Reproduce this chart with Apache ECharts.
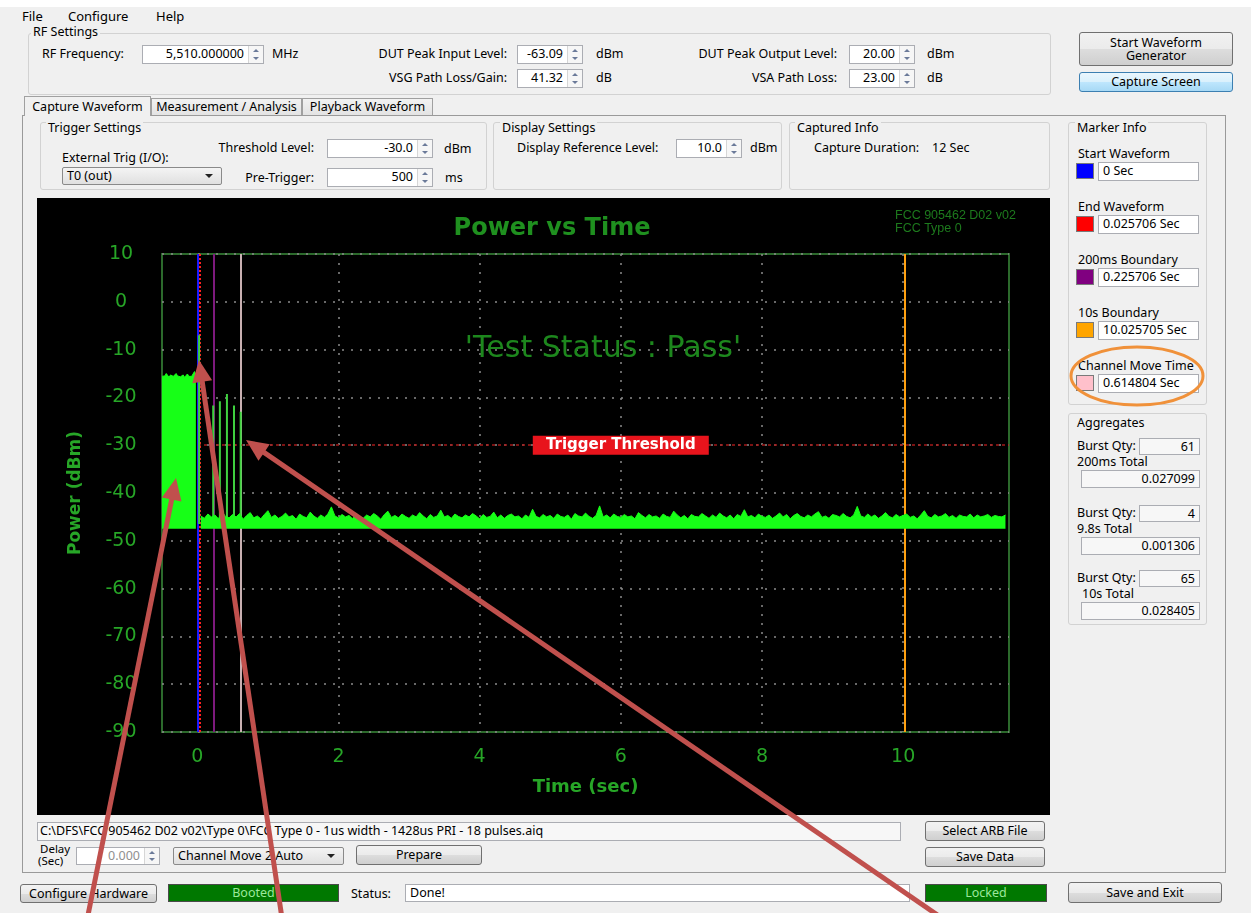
<!DOCTYPE html>
<html>
<head>
<meta charset="utf-8">
<title>Power vs Time</title>
<script src="https://cdn.jsdelivr.net/npm/echarts@6/dist/echarts.min.js"></script>
<style>
html,body{margin:0;padding:0;background:#f0f0f0;}
#app{position:relative;width:1251px;height:913px;overflow:hidden;background:#f0f0f0;font-family:"Noto Sans","Liberation Sans",sans-serif;font-size:12.5px;color:#000;}
.t{position:absolute;white-space:nowrap;line-height:16px;height:16px;}
.g{position:absolute;border:1px solid #d2d2d2;border-radius:3px;box-sizing:border-box;}
.gl{position:absolute;white-space:nowrap;line-height:14px;background:#f0f0f0;padding:0 2px;}
.in{position:absolute;background:#fff;border:1px solid #abadb3;box-sizing:border-box;line-height:16px;white-space:nowrap;overflow:hidden;padding-left:4px;}
.in.num{text-align:right;padding-right:19px;}
.in.rt{text-align:right;padding-right:4px;}
.sp{position:absolute;right:0;top:0;bottom:0;width:14px;border-left:1px solid #d6d6d6;background:#f6f6f6;}
.sp:before,.sp:after{content:"";position:absolute;left:4px;border-left:3px solid transparent;border-right:3px solid transparent;}
.sp:before{top:3px;border-bottom:3px solid #6b7a99;}
.sp:after{bottom:3px;border-top:3px solid #6b7a99;}
.btn{position:absolute;box-sizing:border-box;border:1px solid #707070;border-radius:3px;background:linear-gradient(#f2f2f2,#ebebeb 50%,#dddddd 51%,#cfcfcf);text-align:center;white-space:nowrap;}
.dd{position:absolute;box-sizing:border-box;border:1px solid #8a8a8a;border-radius:2px;background:linear-gradient(#f4f4f4,#e0e0e0);white-space:nowrap;padding-left:4px;line-height:16px;}
.dd:after{content:"";position:absolute;right:8px;top:50%;margin-top:-2px;border-left:4px solid transparent;border-right:4px solid transparent;border-top:4px solid #222;}
.sw{position:absolute;width:18px;height:16px;box-sizing:border-box;border:1px solid #7a7a7a;}
.ok{position:absolute;background:#007800;border:1px solid #4a4a4a;color:#9be89b;text-align:center;box-sizing:border-box;line-height:16px;}
.tab{position:absolute;box-sizing:border-box;border:1px solid #a0a0a0;border-bottom:none;text-align:center;white-space:nowrap;}
#chart{position:absolute;left:37px;top:198px;width:1013px;height:617px;background:#000;}
#ann{position:absolute;left:0;top:0;width:1251px;height:913px;pointer-events:none;}
</style>
</head>
<body>
<div id="app">
  <div style="position:absolute;left:0;top:0;width:1251px;height:7px;background:#fff"></div>

  <!-- menu -->
  <div class="t" style="left:22px;top:8px;font-size:13px">File</div>
  <div class="t" style="left:68px;top:8px;font-size:13px">Configure</div>
  <div class="t" style="left:156px;top:8px;font-size:13px">Help</div>

  <!-- RF settings -->
  <div class="g" style="left:28px;top:33px;width:1023px;height:62px"></div>
  <div class="gl" style="left:31px;top:25px">RF Settings</div>
  <div class="t" style="left:42px;top:46px">RF Frequency:</div>
  <div class="in num" style="left:142px;top:45px;width:122px;height:19px">5,510.000000<div class="sp"></div></div>
  <div class="t" style="left:272px;top:46px">MHz</div>

  <div class="t" style="left:300px;top:46px;width:207px;text-align:right">DUT Peak Input Level:</div>
  <div class="in num" style="left:517px;top:45px;width:66px;height:19px">-63.09<div class="sp"></div></div>
  <div class="t" style="left:596px;top:46px">dBm</div>
  <div class="t" style="left:300px;top:70px;width:207px;text-align:right">VSG Path Loss/Gain:</div>
  <div class="in num" style="left:517px;top:69px;width:66px;height:19px">41.32<div class="sp"></div></div>
  <div class="t" style="left:596px;top:70px">dB</div>

  <div class="t" style="left:620px;top:46px;width:217px;text-align:right">DUT Peak Output Level:</div>
  <div class="in num" style="left:849px;top:45px;width:66px;height:19px">20.00<div class="sp"></div></div>
  <div class="t" style="left:927px;top:46px">dBm</div>
  <div class="t" style="left:620px;top:70px;width:217px;text-align:right">VSA Path Loss:</div>
  <div class="in num" style="left:849px;top:69px;width:66px;height:19px">23.00<div class="sp"></div></div>
  <div class="t" style="left:927px;top:70px">dB</div>

  <div class="btn" style="left:1079px;top:32px;width:154px;height:34px;line-height:13px;padding-top:3px">Start Waveform<br>Generator</div>
  <div class="btn" style="left:1079px;top:72px;width:154px;height:20px;line-height:18px;border-color:#3c7fb1;background:linear-gradient(#eaf6fd,#d9f0fc 50%,#bee6fd 51%,#a7d9f5)">Capture Screen</div>

  <!-- tabs -->
  <div style="position:absolute;left:22px;top:115px;width:1204px;height:758px;border:1px solid #9a9a9a;box-sizing:border-box;background:#f0f0f0"></div>
  <div class="tab" style="left:24px;top:96px;width:127px;height:20px;line-height:19px;background:#f0f0f0">Capture Waveform</div>
  <div class="tab" style="left:151px;top:98px;width:151px;height:17px;line-height:16px;background:linear-gradient(#f2f2f2,#e3e3e3)">Measurement / Analysis</div>
  <div class="tab" style="left:302px;top:98px;width:131px;height:17px;line-height:16px;background:linear-gradient(#f2f2f2,#e3e3e3)">Playback Waveform</div>

  <!-- trigger settings -->
  <div class="g" style="left:40px;top:122px;width:447px;height:68px"></div>
  <div class="gl" style="left:46px;top:121px">Trigger Settings</div>
  <div class="t" style="left:62px;top:150px">External Trig (I/O):</div>
  <div class="dd" style="left:62px;top:167px;width:160px;height:18px">T0 (out)</div>
  <div class="t" style="left:180px;top:140px;width:134px;text-align:right">Threshold Level:</div>
  <div class="in num" style="left:327px;top:139px;width:106px;height:19px">-30.0<div class="sp"></div></div>
  <div class="t" style="left:444px;top:141px">dBm</div>
  <div class="t" style="left:180px;top:170px;width:134px;text-align:right">Pre-Trigger:</div>
  <div class="in num" style="left:327px;top:168px;width:106px;height:19px">500<div class="sp"></div></div>
  <div class="t" style="left:445px;top:170px">ms</div>

  <!-- display settings -->
  <div class="g" style="left:493px;top:122px;width:289px;height:68px"></div>
  <div class="gl" style="left:500px;top:121px">Display Settings</div>
  <div class="t" style="left:517px;top:140px">Display Reference Level:</div>
  <div class="in num" style="left:676px;top:139px;width:66px;height:19px">10.0<div class="sp"></div></div>
  <div class="t" style="left:750px;top:140px">dBm</div>

  <!-- captured info -->
  <div class="g" style="left:789px;top:122px;width:261px;height:68px"></div>
  <div class="gl" style="left:795px;top:121px">Captured Info</div>
  <div class="t" style="left:814px;top:140px">Capture Duration:</div>
  <div class="t" style="left:932px;top:140px">12 Sec</div>

  <!-- plot -->
  <div id="chart"></div>

  <!-- marker info / aggregates (filled from the arrays below) -->
  <div class="g" style="left:1068px;top:122px;width:139px;height:283px;overflow:hidden" id="markerBox"></div>
  <div class="gl" style="left:1075px;top:121px">Marker Info</div>
  <div class="g" style="left:1068px;top:413px;width:139px;height:212px;overflow:hidden" id="aggBox"></div>
  <div class="gl" style="left:1075px;top:416px">Aggregates</div>

  <!-- bottom controls -->
  <div class="in" style="left:37px;top:822px;width:864px;height:19px;background:#f7f7f7;padding-left:2px">C:\DFS\FCC 905462 D02 v02\Type 0\FCC Type 0 - 1us width - 1428us PRI - 18 pulses.aiq</div>
  <div class="btn" style="left:925px;top:821px;width:120px;height:20px;line-height:18px">Select ARB File</div>
  <div class="btn" style="left:925px;top:847px;width:120px;height:20px;line-height:18px">Save Data</div>
  <div class="t" style="left:40px;top:843px;font-size:11.5px;line-height:12px">Delay</div>
  <div class="t" style="left:38px;top:855px;font-size:11.5px;line-height:12px">(Sec)</div>
  <div class="in num" style="left:76px;top:847px;width:84px;height:18px;color:#909090">0.000<div class="sp"></div></div>
  <div class="dd" style="left:173px;top:847px;width:171px;height:18px">Channel Move 2 Auto</div>
  <div class="btn" style="left:356px;top:845px;width:126px;height:20px;line-height:18px">Prepare</div>

  <div class="btn" style="left:20px;top:884px;width:137px;height:19px;line-height:17px">Configure Hardware</div>
  <div class="ok" style="left:168px;top:884px;width:171px;height:18px">Booted</div>
  <div class="t" style="left:351px;top:886px">Status:</div>
  <div class="in" style="left:405px;top:884px;width:505px;height:18px">Done!</div>
  <div class="ok" style="left:925px;top:884px;width:122px;height:18px">Locked</div>
  <div class="btn" style="left:1068px;top:882px;width:154px;height:21px;line-height:19px">Save and Exit</div>

  <svg id="ann" width="1251" height="913" viewBox="0 0 1251 913"></svg>
</div>

<script>
// ---- axis ticks ----
const timeTicks = [0, 2, 4, 6, 8, 10];
const timeMin = -0.5, timeMax = 11.5;
const powerMin = -90, powerMax = 10, powerStep = 10;

// ---- captured waveform (dBm) ----
// transmitted burst block before the trigger point
const burstTimes = [-0.5, -0.48, -0.46, -0.44, -0.42, -0.4, -0.38, -0.36, -0.34, -0.32, -0.3, -0.28, -0.26,
  -0.24, -0.22, -0.2, -0.18, -0.16, -0.14, -0.12, -0.1, -0.08, -0.06, -0.04, -0.02];
const burstTop = [-15.6, -15.2, -15.5, -15.0, -15.4, -15.8, -15.3, -15.1, -15.6, -15.4, -15.0, -15.5, -15.2,
  -15.7, -15.4, -15.3, -15.8, -15.4, -15.1, -15.6, -15.3, -15.6, -15.2, -14.6, -15.3];
// noise floor, one reading every 0.05 s starting at 0.05 s
const noiseStart = 0.05, noiseStep = 0.05;
const noiseTop = [
  -44.8, -45.3, -44.4, -45.0, -44.6, -45.4, -43.9, -44.9, -45.2, -44.5,
  -45.0, -44.3, -45.5, -44.7, -44.1, -45.2, -44.8, -45.4, -44.5, -43.7,
  -45.1, -44.6, -45.3, -44.9, -44.2, -45.0, -44.7, -45.5, -44.4, -44.9,
  -45.2, -44.0, -44.8, -45.3, -44.6, -45.1, -44.4, -42.9, -44.8, -45.2,
  -44.5, -45.0, -44.7, -45.4, -44.2, -44.9, -45.3, -44.6, -45.0, -44.3,
  -44.8, -45.5, -44.5, -43.8, -45.1, -44.7, -45.2, -44.4, -44.9, -45.3,
  -44.6, -45.0, -44.1, -44.8, -45.4, -44.5, -45.1, -44.8, -43.6, -45.0,
  -44.7, -45.3, -44.4, -44.9, -45.2, -44.6, -45.0, -44.3, -44.8, -45.4,
  -44.5, -45.1, -44.9, -44.0, -45.2, -44.6, -45.3, -44.7, -44.4, -45.0,
  -44.8, -45.4, -44.6, -45.1, -43.4, -44.9, -45.2, -44.5, -45.0, -44.7,
  -45.3, -44.4, -44.9, -45.1, -44.6, -45.5, -44.3, -44.8, -45.0, -44.2,
  -44.9, -45.3, -44.7, -42.7, -45.0, -44.6, -45.2, -44.4, -44.9, -45.1,
  -44.5, -45.0, -44.8, -45.4, -44.1, -44.7, -45.2, -44.5, -45.0, -44.8,
  -45.3, -44.4, -44.9, -45.1, -43.8, -44.6, -45.2, -44.7, -45.4, -44.5,
  -44.9, -45.0, -44.3, -44.8, -45.3, -44.6, -45.1, -44.2, -44.8, -45.2,
  -44.6, -45.4, -44.5, -44.9, -43.5, -45.0, -44.7, -45.2, -44.4, -44.9,
  -45.1, -44.6, -45.3, -44.8, -44.2, -45.0, -44.5, -45.4, -44.7, -44.3,
  -44.9, -45.2, -44.6, -45.0, -44.4, -43.9, -45.1, -44.8, -45.3, -44.5,
  -44.7, -45.0, -44.3, -44.9, -45.2, -44.6, -42.8, -44.8, -45.1, -44.4,
  -45.0, -44.6, -45.3, -44.8, -44.1, -44.9, -45.2, -44.5, -45.0, -44.7,
  -44.4, -45.1, -44.8, -45.4, -44.6, -43.7, -44.9, -45.2, -44.5, -45.0,
  -44.8, -44.3, -45.1, -44.7, -45.3, -44.6, -44.9, -45.0, -44.4, -45.2,
  -44.6, -45.0, -44.8, -44.5, -45.1, -44.7, -44.9, -45.0, -44.6];
const floorLevel = -47.5;
// individual pulses after the trigger
const pulseTimes = [0.025706, 0.2257, 0.32, 0.42, 0.52, 0.6148];
const pulsePeaks = [-7.0, -21.7, -20.8, -19.3, -21.7, -23.0];
const pulseBase = -46.5;

// ---- trigger threshold ----
const thresholdLevel = -30;
const thresholdLabel = 'Trigger Threshold';
const thresholdLabelTime = 6.0;

// ---- markers ----
const markerNames = ['Start Waveform', 'End Waveform', '200ms Boundary', '10s Boundary', 'Channel Move Time'];
const markerTimes = [0, 0.025706, 0.225706, 10.025705, 0.614804];
const markerColors = ['#0000ff', '#ff0000', '#800080', '#ffa500', '#ffc0cb'];
const markerLineColors = ['#1a1aff', '#ff2020', '#7d1a7d', '#ffa010', '#c9b0b2'];
const markerLineTypes = ['solid', 'dotted', 'solid', 'solid', 'solid'];

// ---- aggregates ----
const aggQty = [61, 4, 65];
const aggLabels = ['200ms Total', '9.8s Total', '10s Total'];
const aggTotals = ['0.027099', '0.001306', '0.028405'];

// ---- side panels ----
(function buildPanels() {
  const box = document.getElementById('markerBox');
  const rows = [153, 206, 259, 312, 365];
  markerNames.forEach((name, i) => {
    const cy = rows[i] - 122;
    box.insertAdjacentHTML('beforeend',
      `<div class="t" style="left:9px;top:${cy - 8}px">${name}</div>` +
      `<div class="sw" style="left:7px;top:${cy + 9}px;background:${markerColors[i]}"></div>` +
      `<div class="in" style="left:29px;top:${cy + 8}px;width:101px;height:19px">${markerTimes[i]} Sec</div>`);
  });
  const agg = document.getElementById('aggBox');
  const base = [445, 512, 577];
  aggQty.forEach((q, i) => {
    const cy = base[i] - 413;
    agg.insertAdjacentHTML('beforeend',
      `<div class="t" style="left:8px;top:${cy - 8}px">Burst Qty:</div>` +
      `<div class="in rt" style="left:70px;top:${cy - 8}px;width:61px;height:17px;line-height:15px;background:#f7f7f7">${q}</div>` +
      `<div class="t" style="left:${i === 2 ? 13 : 8}px;top:${cy + 8}px">${aggLabels[i]}</div>` +
      `<div class="in rt" style="left:12px;top:${cy + 24}px;width:119px;height:18px;background:#f7f7f7">${aggTotals[i]}</div>`);
  });
})();

// ---- chart ----
const green = '#27a627';
const titleGreen = '#1f901f';
const signalGreen = '#17ff17';
const font = 'DejaVu Sans';

const pulseData = [];
pulseTimes.forEach((t, i) => {
  pulseData.push([t, pulseBase], [t, pulsePeaks[i]], [t, pulseBase], [t, '-']);
});
const burstData = burstTimes.map((t, i) => [t, burstTop[i]]);
const noiseData = noiseTop.map((v, i) => [+(noiseStart + i * noiseStep).toFixed(3), v]);

const chart = echarts.init(document.getElementById('chart'), null, { renderer: 'canvas' });
chart.setOption({
  backgroundColor: '#000',
  animation: false,
  grid: { left: 125, top: 56, right: 41, bottom: 83, show: true, borderColor: '#2c6a2c', borderWidth: 2, backgroundColor: 'rgba(0,0,0,0)' },
  xAxis: {
    type: 'value', min: timeMin, max: timeMax,
    name: 'Time (sec)', nameLocation: 'middle', nameGap: 46,
    nameTextStyle: { color: green, fontFamily: font, fontWeight: 'bold', fontSize: 18 },
    axisLine: { show: false },
    axisTick: { show: false, customValues: timeTicks },
    axisLabel: { customValues: timeTicks, color: green, fontFamily: font, fontSize: 19, margin: 16 },
    splitLine: { show: true, lineStyle: { color: '#8a8a8a', type: [2, 7], width: 1.5 } }
  },
  yAxis: {
    type: 'value', min: powerMin, max: powerMax, interval: powerStep,
    name: 'Power (dBm)', nameLocation: 'middle', nameGap: 78, nameRotate: 90,
    nameTextStyle: { color: green, fontFamily: font, fontWeight: 'bold', fontSize: 17 },
    axisLine: { show: false },
    axisTick: { show: false },
    axisLabel: { color: green, fontFamily: font, fontSize: 19, margin: 41, align: 'center' },
    splitLine: { show: true, lineStyle: { color: '#8a8a8a', type: [2, 7], width: 1.5 } }
  },
  graphic: [
    { type: 'text', x: 515, y: 31, z: 10, style: { text: 'Power vs Time', fill: titleGreen, fontFamily: font, fontWeight: 'bold', fontSize: 24, align: 'center', verticalAlign: 'middle' } },
    { type: 'text', x: 566, y: 151, z: 10, style: { text: "'Test Status : Pass'", fill: '#1d871d', fontFamily: font, fontSize: 30, align: 'center', verticalAlign: 'middle' } },
    { type: 'text', x: 858, y: 18, z: 10, style: { text: 'FCC 905462 D02 v02', fill: '#1d7a1d', fontFamily: 'Liberation Sans', fontSize: 12.5, verticalAlign: 'middle' } },
    { type: 'text', x: 858, y: 31, z: 10, style: { text: 'FCC Type 0', fill: '#1d7a1d', fontFamily: 'Liberation Sans', fontSize: 12.5, verticalAlign: 'middle' } }
  ],
  series: [
    {
      name: 'Markers', type: 'line', data: [], z: 1, silent: true,
      markLine: {
        silent: true, symbol: ['none', 'none'], label: { show: false }, animation: false, z: 1,
        data: markerTimes.map((t, i) => ({
          xAxis: t,
          lineStyle: { color: markerLineColors[i], width: 2, type: markerLineTypes[i] }
        }))
      }
    },
    {
      name: 'Threshold', type: 'line', data: [], z: 2, silent: true,
      markLine: {
        silent: true, symbol: ['none', 'none'], label: { show: false }, animation: false, z: 2,
        lineStyle: { color: '#a51818', type: [3, 3], width: 1.5 },
        data: [{ yAxis: thresholdLevel }]
      },
      markPoint: {
        silent: true, animation: false, z: 20,
        symbol: 'rect', symbolSize: [176, 19],
        itemStyle: { color: '#e8141c' },
        label: { show: true, position: 'inside', formatter: thresholdLabel, color: '#ffffff', fontFamily: font, fontSize: 15, fontWeight: 'bold' },
        data: [{ coord: [thresholdLabelTime, thresholdLevel] }]
      }
    },
    {
      name: 'Pulses', type: 'line', data: pulseData, z: 3, symbol: 'none', connectNulls: false,
      lineStyle: { color: '#3fd23f', width: 2 }
    },
    {
      name: 'Burst', type: 'line', data: burstData, z: 4, symbol: 'none',
      lineStyle: { color: signalGreen, width: 1 },
      areaStyle: { color: signalGreen, opacity: 1, origin: floorLevel }
    },
    {
      name: 'Noise', type: 'line', data: noiseData, z: 4, symbol: 'none',
      lineStyle: { color: signalGreen, width: 1 },
      areaStyle: { color: signalGreen, opacity: 1, origin: floorLevel }
    }
  ]
});

// ---- callout arrows and highlight ----
(function drawCallouts() {
  const svg = document.getElementById('ann');
  const ns = 'http://www.w3.org/2000/svg';
  const arrows = [[86, 925, 176, 478], [283, 925, 199, 360], [952, 925, 246, 440]];
  arrows.forEach(([x1, y1, x2, y2]) => {
    const dx = x2 - x1, dy = y2 - y1, len = Math.hypot(dx, dy);
    const ux = dx / len, uy = dy / len, head = 22, half = 10;
    const bx = x2 - ux * head, by = y2 - uy * head;
    const line = document.createElementNS(ns, 'line');
    line.setAttribute('x1', x1); line.setAttribute('y1', y1);
    line.setAttribute('x2', bx + ux * 2); line.setAttribute('y2', by + uy * 2);
    line.setAttribute('stroke', '#c0504d'); line.setAttribute('stroke-width', 5);
    svg.appendChild(line);
    const poly = document.createElementNS(ns, 'polygon');
    poly.setAttribute('points', `${x2},${y2} ${bx - uy * half},${by + ux * half} ${bx + uy * half},${by - ux * half}`);
    poly.setAttribute('fill', '#c0504d');
    svg.appendChild(poly);
  });
  const ell = document.createElementNS(ns, 'ellipse');
  ell.setAttribute('cx', 1137); ell.setAttribute('cy', 376);
  ell.setAttribute('rx', 66); ell.setAttribute('ry', 29);
  ell.setAttribute('fill', 'none'); ell.setAttribute('stroke', '#f0913a'); ell.setAttribute('stroke-width', 3);
  svg.appendChild(ell);
})();
</script>
</body>
</html>
